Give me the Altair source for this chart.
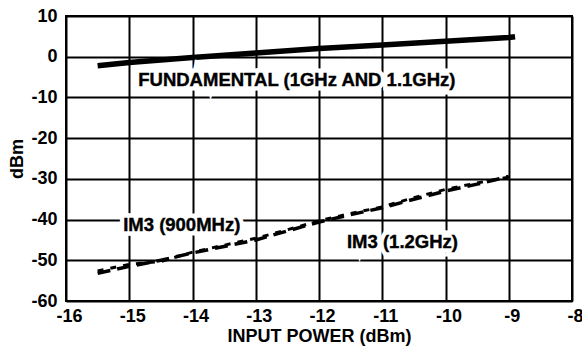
import altair as alt
import pandas as pd

# Input power sweep (dBm)
x_pin = [-15.5, -15.0, -14.5, -14.0, -13.5, -13.0, -12.5, -12.0, -11.5, -11.0, -10.5, -10.0, -9.5, -9.0]
# IM3 products (dBm)
im3_900 = [-53.2, -51.5, -50.0, -48.2, -46.6, -45.0, -42.8, -40.6, -38.8, -37.1, -35.0, -33.0, -31.3, -29.4]
im3_1200 = [-52.6, -51.0, -50.3, -48.0, -46.3, -44.6, -42.5, -40.3, -38.5, -36.9, -34.6, -32.6, -31.0, -29.6]

# Fundamental (dBm)
x_fund = [-15.5, -15.0, -14.0, -13.0, -12.0, -11.0, -10.0, -9.0, -8.9]
fund = [-2.2, -1.4, -0.2, 0.9, 2.0, 2.9, 3.8, 4.7, 4.9]

# Annotation labels
lab_text = ["FUNDAMENTAL (1GHz AND 1.1GHz)", "IM3 (900MHz)", "IM3 (1.2GHz)"]
lab_x = [-12.35, -14.17, -10.68]
lab_y = [-5.7, -41.4, -45.5]

FONT = "Liberation Sans"
FS = 18.5

df_fund = pd.DataFrame({"x": x_fund, "y": fund})
df_a = pd.DataFrame({"x": x_pin, "y": im3_900})
df_b = pd.DataFrame({"x": x_pin, "y": im3_1200})
df_lab = pd.DataFrame({"t": lab_text, "x": lab_x, "y": lab_y})

xs = alt.Scale(domain=[-16, -8], nice=False, zero=False)
ys = alt.Scale(domain=[-60, 10], nice=False, zero=False)

xenc = alt.X("x:Q", scale=xs, title="INPUT POWER (dBm)",
             axis=alt.Axis(values=list(range(-16, -7)), labelExpr="toString(datum.value)",
                           labelFlush=False, labelOffset=3, labelBound=False, labelOverlap=False))
yenc = alt.Y("y:Q", scale=ys, title="dBm",
             axis=alt.Axis(values=list(range(-60, 11, 10)), labelExpr="toString(datum.value)"))

fund_line = alt.Chart(df_fund).mark_line(color="black", strokeWidth=5.5, strokeCap="butt").encode(
    x=xenc, y=yenc)
line_a = alt.Chart(df_a).mark_line(color="black", strokeWidth=3.5, strokeDash=[13, 7]).encode(
    x="x:Q", y="y:Q")
line_b = alt.Chart(df_b).mark_line(color="black", strokeWidth=3, strokeDash=[6, 7]).encode(
    x="x:Q", y="y:Q")

mask = alt.Chart(df_lab).mark_text(font=FONT, fontSize=FS, fontWeight="bold",
                                   color="white", stroke="white", strokeWidth=9,
                                   align="center", baseline="middle").encode(
    x="x:Q", y="y:Q", text="t:N")
labels = alt.Chart(df_lab).mark_text(font=FONT, fontSize=FS, fontWeight="bold",
                                     color="black", stroke="black", strokeWidth=0.4,
                                     align="center", baseline="middle").encode(
    x="x:Q", y="y:Q", text="t:N")

chart = alt.layer(fund_line, line_a, line_b, mask, labels).properties(
    width=506, height=285,
    autosize=alt.AutoSizeParams(type="none"),
    padding={"left": 66, "top": 16, "right": 10, "bottom": 53},
    background="white",
).configure_view(
    stroke="black", strokeWidth=2
).configure_axis(
    grid=True, gridColor="black", gridWidth=2, gridOpacity=1,
    domain=False, ticks=False,
    labelFont=FONT, labelFontSize=18, labelFontWeight="bold", labelColor="black",
    titleFont=FONT, titleFontSize=18, titleFontWeight="bold", titleColor="black",
).configure_axisX(
    labelPadding=6, titlePadding=2
).configure_axisY(
    labelPadding=9, titlePadding=4
)

chart.save("out.html", embed_options={"renderer": "svg", "actions": False})
